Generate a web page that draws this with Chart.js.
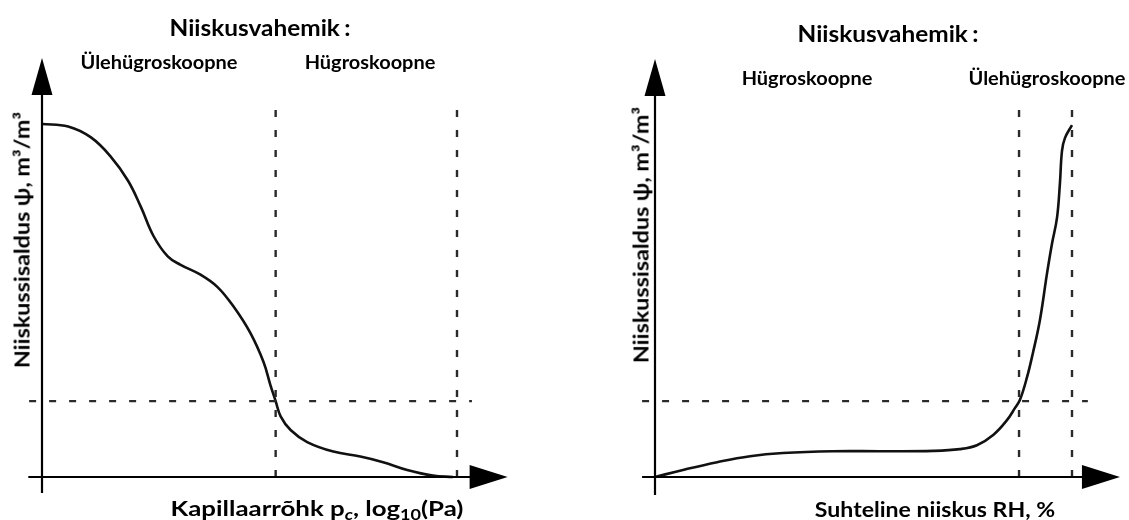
<!DOCTYPE html>
<html>
<head>
<meta charset="utf-8">
<script src="https://cdn.jsdelivr.net/npm/chart.js@4/dist/chart.umd.min.js"></script>
<style>
  body { margin: 0; background: #fff; width: 1129px; height: 520px; overflow: hidden; position: relative; font-family: Lato, "Noto Sans", sans-serif; color: #000; }
  .box { position: absolute; top: 0; height: 520px; }
  .lbl { position: absolute; white-space: nowrap; font-weight: bold; }
  .ttl { font-size: 23px; transform: translate(-50%, -50%) scaleX(1.06); }
  .ttl span { margin-left: 4px; }
  .sub { font-size: 19px; transform: translate(-50%, -50%) scaleX(1.05); }
  .axt { font-size: 21px; transform: translate(-50%, -50%) scaleX(1.23); }
  .axr { font-size: 21px; transform: translate(-50%, -50%) scaleX(1.1); }
  .rot { font-size: 21px; transform: translate(-50%, -50%) rotate(-90deg) scaleX(1.11); }
  sub { font-size: 70%; vertical-align: -0.3em; line-height: 0; }
</style>
</head>
<body>
<div class="box" id="leftBox" style="left:0;width:565px"><canvas id="leftChart"></canvas></div>
<div class="box" id="rightBox" style="left:565px;width:564px"><canvas id="rightChart"></canvas></div>

<div class="lbl ttl" style="left:260px;top:27px">Niiskusvahemik<span>:</span></div>
<div class="lbl sub" style="left:159px;top:61px">Ülehügroskoopne</div>
<div class="lbl sub" style="left:370px;top:61px">Hügroskoopne</div>
<div class="lbl axt" style="left:317px;top:507px">Kapillaarrõhk p<sub><i>c</i></sub>, log<sub>10</sub>(Pa)</div>
<div class="lbl rot" style="left:21px;top:240px">Niiskussisaldus ψ, m³/m³</div>

<div class="lbl ttl" style="left:888px;top:33px">Niiskusvahemik<span>:</span></div>
<div class="lbl sub" style="left:807px;top:77px">Hügroskoopne</div>
<div class="lbl sub" style="left:1047px;top:77px">Ülehügroskoopne</div>
<div class="lbl axr" style="left:935px;top:508px">Suhteline niiskus RH, %</div>
<div class="lbl rot" style="left:640px;top:235px">Niiskussisaldus ψ, m³/m³</div>

<script>
// left: moisture content vs capillary pressure (arbitrary units, origin = 0,0)
const pcX = [0, 0.63, 1.18, 1.66, 2.07, 2.38, 2.69, 3.03, 3.34, 3.82, 4.23, 4.62, 5.02, 5.34, 5.50, 5.63, 5.75, 5.99, 6.39, 7.02, 7.67, 8.22, 8.80, 9.42, 9.90];
const pcY = [10, 9.93, 9.62, 9.07, 8.40, 7.66, 6.82, 6.25, 6.01, 5.73, 5.38, 4.82, 4.08, 3.25, 2.62, 2.15, 1.72, 1.33, 0.99, 0.72, 0.58, 0.42, 0.20, 0.04, 0];
const pcLimits = [5.63, 10];      // vertical dashed lines
const pcLevel = 2.15;             // horizontal dashed line
const pcLevelSpan = [-0.31, 10.36];
const pcLimitTop = 10.48;
const pcAxisX = [-0.33, 11.22];
const pcAxisY = [-0.45, 11.87];

// right: moisture content vs relative humidity
const rhX = [0, 0.67, 1.49, 2.28, 3.07, 4.27, 5.47, 6.67, 7.31, 7.72, 8.11, 8.44, 8.63, 8.75, 8.92, 9.06, 9.23, 9.40, 9.52, 9.64, 9.71, 9.76, 9.83, 10];
const rhY = [0, 0.20, 0.42, 0.59, 0.68, 0.73, 0.73, 0.74, 0.79, 0.90, 1.19, 1.61, 1.95, 2.18, 2.82, 3.50, 4.44, 5.76, 6.61, 7.34, 8.31, 9.24, 9.60, 9.97];
const rhLimits = [8.73, 10];
const rhLevel = 2.15;
const rhLevelSpan = [-0.31, 10.38];
const rhLimitTop = 10.52;
const rhAxisX = [-0.31, 11.15];
const rhAxisY = [-0.51, 11.84];

const arrowAxes = {
  id: 'arrowAxes',
  afterDatasetsDraw(chart, args, opts) {
    const { ctx } = chart;
    const xs = chart.scales.x, ys = chart.scales.y;
    const x0 = xs.getPixelForValue(0), y0 = ys.getPixelForValue(0);
    const xa = xs.getPixelForValue(opts.axisX[0]), xb = xs.getPixelForValue(opts.axisX[1]);
    const ya = ys.getPixelForValue(opts.axisY[0]), yb = ys.getPixelForValue(opts.axisY[1]);
    ctx.save();
    ctx.strokeStyle = '#000';
    ctx.fillStyle = '#000';
    ctx.lineWidth = 2.2;
    ctx.beginPath();
    ctx.moveTo(x0, ya); ctx.lineTo(x0, yb + 30);
    ctx.moveTo(xa, y0); ctx.lineTo(xb - 30, y0);
    ctx.stroke();
    // y arrow
    ctx.beginPath();
    ctx.moveTo(x0, yb); ctx.lineTo(x0 - 10.5, yb + 37); ctx.lineTo(x0 + 10.5, yb + 37);
    ctx.closePath(); ctx.fill();
    // x arrow
    ctx.beginPath();
    ctx.moveTo(xb, y0); ctx.lineTo(xb - 38, y0 - 12); ctx.lineTo(xb - 38, y0 + 12);
    ctx.closePath(); ctx.fill();
    ctx.restore();
  }
};

function dashed(points) {
  return {
    data: points, showLine: true, pointRadius: 0, borderColor: '#2a2a2a',
    borderWidth: 2.4, borderDash: [7, 13], clip: false, tension: 0
  };
}

function makeChart(id, xs, ys, limits, level, span, top, axisX, axisY, pad) {
  const datasets = [];
  limits.forEach(v => datasets.push(dashed([{ x: v, y: 0 }, { x: v, y: top }])));
  datasets.push(dashed([{ x: span[0], y: level }, { x: span[1], y: level }]));
  datasets.push({
    data: xs.map((x, i) => ({ x: x, y: ys[i] })),
    showLine: true, pointRadius: 0, borderColor: '#111', borderWidth: 2.6,
    tension: 0.4, clip: false
  });
  return new Chart(document.getElementById(id), {
    type: 'scatter',
    data: { datasets: datasets },
    options: {
      responsive: true,
      maintainAspectRatio: false,
      animation: false,
      layout: { padding: pad },
      scales: {
        x: { type: 'linear', min: 0, max: 10, display: false },
        y: { type: 'linear', min: 0, max: 10, display: false }
      },
      plugins: {
        legend: { display: false },
        tooltip: { enabled: false },
        arrowAxes: { axisX: axisX, axisY: axisY }
      }
    },
    plugins: [arrowAxes]
  });
}

makeChart('leftChart', pcX, pcY, pcLimits, pcLevel, pcLevelSpan, pcLimitTop, pcAxisX, pcAxisY,
  { left: 42, right: 108, top: 124, bottom: 43 });
makeChart('rightChart', rhX, rhY, rhLimits, rhLevel, rhLevelSpan, rhLimitTop, rhAxisX, rhAxisY,
  { left: 90, right: 57, top: 124, bottom: 43 });
</script>
</body>
</html>
